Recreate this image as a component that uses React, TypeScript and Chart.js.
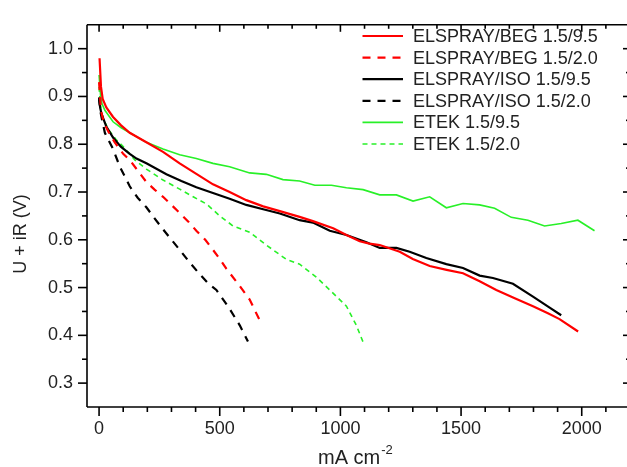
import React, { useEffect, useRef } from 'react';
import { Chart, registerables } from 'chart.js';

Chart.register(...registerables);

// ---- tick labels ----
const xTickValues = [0, 500, 1000, 1500, 2000];
const yTickValues = [0.3, 0.4, 0.5, 0.6, 0.7, 0.8, 0.9, 1.0];

// ---- series names ----
const seriesNames = [
  'ELSPRAY/BEG 1.5/9.5',
  'ELSPRAY/BEG 1.5/2.0',
  'ELSPRAY/ISO 1.5/9.5',
  'ELSPRAY/ISO 1.5/2.0',
  'ETEK 1.5/9.5',
  'ETEK 1.5/2.0',
];

// ---- ELSPRAY/BEG 1.5/9.5 ----
const begHighX = [2, 8, 15, 30, 58, 90, 127, 196, 265, 334, 403, 472, 541, 610, 680, 749, 831, 886, 970, 1025, 1080, 1120, 1163, 1246, 1300, 1370, 1440, 1508, 1577, 1646, 1720, 1798, 1860, 1908, 1985];
const begHighY = [0.98, 0.92, 0.895, 0.877, 0.857, 0.84, 0.824, 0.804, 0.784, 0.76, 0.738, 0.716, 0.7, 0.683, 0.67, 0.66, 0.648, 0.639, 0.624, 0.61, 0.597, 0.592, 0.589, 0.575, 0.56, 0.545, 0.537, 0.53, 0.513, 0.495, 0.478, 0.461, 0.446, 0.434, 0.408];

// ---- ELSPRAY/BEG 1.5/2.0 ----
const begLowX = [0, 8, 20, 40, 65, 100, 127, 160, 196, 230, 265, 300, 334, 370, 403, 440, 472, 500, 528, 576, 624, 666];
const begLowY = [0.93, 0.87, 0.845, 0.825, 0.804, 0.78, 0.767, 0.745, 0.721, 0.705, 0.69, 0.673, 0.656, 0.638, 0.619, 0.6, 0.579, 0.56, 0.539, 0.508, 0.475, 0.431];

// ---- ELSPRAY/ISO 1.5/9.5 ----
const isoHighX = [0, 5, 10, 30, 58, 90, 127, 155, 196, 279, 341, 403, 472, 541, 610, 680, 749, 831, 886, 956, 1025, 1108, 1163, 1232, 1287, 1356, 1439, 1508, 1577, 1632, 1715, 1798, 1867, 1915];
const isoHighY = [0.894, 0.875, 0.864, 0.837, 0.814, 0.795, 0.78, 0.77, 0.76, 0.737, 0.723, 0.71, 0.698, 0.686, 0.673, 0.664, 0.655, 0.641, 0.636, 0.619, 0.61, 0.595, 0.583, 0.583, 0.575, 0.562, 0.549, 0.541, 0.525, 0.52, 0.508, 0.481, 0.458, 0.442];

// ---- ELSPRAY/ISO 1.5/2.0 ----
const isoLowX = [0, 5, 10, 24, 58, 86, 127, 160, 196, 230, 265, 300, 334, 375, 417, 450, 486, 534, 583, 617];
const isoLowY = [0.898, 0.87, 0.857, 0.824, 0.79, 0.753, 0.712, 0.688, 0.668, 0.645, 0.622, 0.6, 0.579, 0.553, 0.528, 0.51, 0.495, 0.461, 0.421, 0.387];

// ---- ETEK 1.5/9.5 ----
const etekHighX = [0, 6, 12, 24, 58, 90, 127, 196, 265, 334, 403, 472, 541, 624, 693, 762, 831, 894, 963, 1025, 1094, 1163, 1232, 1301, 1370, 1439, 1508, 1577, 1639, 1708, 1777, 1846, 1915, 1984, 2053];
const etekHighY = [0.945, 0.904, 0.885, 0.871, 0.847, 0.835, 0.824, 0.804, 0.79, 0.778, 0.77, 0.76, 0.753, 0.74, 0.737, 0.726, 0.723, 0.714, 0.714, 0.709, 0.705, 0.694, 0.694, 0.681, 0.69, 0.667, 0.676, 0.673, 0.666, 0.647, 0.641, 0.629, 0.634, 0.641, 0.619];

// ---- ETEK 1.5/2.0 ----
const etekLowX = [0, 8, 20, 40, 70, 100, 148, 196, 265, 334, 390, 445, 500, 555, 624, 693, 740, 776, 831, 900, 956, 1025, 1066, 1097];
const etekLowY = [0.92, 0.87, 0.85, 0.83, 0.81, 0.795, 0.767, 0.748, 0.725, 0.706, 0.69, 0.675, 0.65, 0.629, 0.616, 0.589, 0.572, 0.559, 0.549, 0.522, 0.495, 0.461, 0.421, 0.382];

const FONT = '"Liberation Sans", Arial, Helvetica, sans-serif';
const RED = '#ff0000';
const BLACK = '#000000';
const GREEN = 'rgb(40,240,40)';

const toPoints = (xs: number[], ys: number[]) => xs.map((x, i) => ({ x, y: ys[i] }));

const framePlugin = {
  id: 'framePlugin',
  afterDraw(chart: any) {
    const { ctx, chartArea: a, scales } = chart;
    const xs = scales.x;
    const ys = scales.y;
    ctx.save();
    ctx.strokeStyle = '#000';
    ctx.lineWidth = 1.6;
    ctx.lineCap = 'butt';
    const line = (x1: number, y1: number, x2: number, y2: number) => {
      ctx.beginPath();
      ctx.moveTo(x1, y1);
      ctx.lineTo(x2, y2);
      ctx.stroke();
    };
    // frame
    line(a.left, a.top, a.right, a.top);
    line(a.left, a.bottom, a.right, a.bottom);
    line(a.left, a.top, a.left, a.bottom);
    line(a.right, a.top, a.right, a.bottom);

    // x ticks
    const xStep = xTickValues[1] - xTickValues[0];
    const xMinor = xStep / 5;
    for (let v = xTickValues[0]; v <= xs.max + 1e-6; v += xMinor) {
      const major = Math.abs(v / xStep - Math.round(v / xStep)) < 1e-6;
      const px = xs.getPixelForValue(v);
      line(px, a.bottom, px, a.bottom + (major ? 9 : 5));
      line(px, a.top, px, a.top + (major ? 7 : 4));
    }
    // y ticks
    const yStep = yTickValues[1] - yTickValues[0];
    const yMinor = yStep / 2;
    const n0 = Math.ceil((ys.min + 1e-6) / yMinor);
    const n1 = Math.floor((ys.max - 1e-6) / yMinor);
    for (let n = n0; n <= n1; n++) {
      const v = n * yMinor;
      const major = n % 2 === 0;
      const py = ys.getPixelForValue(v);
      line(a.left, py, a.left - (major ? 9 : 5), py);
      line(a.right, py, a.right - (major ? 7 : 4), py);
    }

    // axis titles
    ctx.fillStyle = '#222';
    ctx.font = `18px ${FONT}`;
    ctx.save();
    ctx.translate(21, (a.top + a.bottom) / 2 + 18);
    ctx.rotate(-Math.PI / 2);
    ctx.textAlign = 'center';
    ctx.textBaseline = 'middle';
    ctx.fillText('U + iR (V)', 0, 0);
    ctx.restore();

    ctx.font = `20px ${FONT}`;
    ctx.textAlign = 'left';
    ctx.textBaseline = 'alphabetic';
    const main = 'mA cm';
    const w = ctx.measureText(main).width;
    ctx.font = `13px ${FONT}`;
    const sw = ctx.measureText('-2').width;
    const cx = xs.getPixelForValue(1000) + 15;
    const x0 = cx - (w + sw + 1) / 2;
    ctx.font = `20px ${FONT}`;
    ctx.fillText(main, x0, 464);
    ctx.font = `13px ${FONT}`;
    ctx.fillText('-2', x0 + w + 1, 454);

    // legend
    const ds = chart.data.datasets;
    ctx.font = `18px ${FONT}`;
    ctx.textBaseline = 'middle';
    ds.forEach((d: any, i: number) => {
      const y = 36 + i * 21.6;
      ctx.save();
      ctx.strokeStyle = d.borderColor;
      ctx.lineWidth = d.borderWidth;
      ctx.setLineDash(d.borderDash || []);
      line(362.5, y, 403, y);
      ctx.restore();
      ctx.fillStyle = '#222';
      ctx.fillText(d.label, 413, y + 1);
    });
    ctx.restore();
  },
};

export default function App() {
  const ref = useRef<HTMLCanvasElement | null>(null);
  useEffect(() => {
    if (!ref.current) return;
    const datasets = [
      { label: seriesNames[0], data: toPoints(begHighX, begHighY), borderColor: RED, borderWidth: 2.2, borderDash: [] as number[] },
      { label: seriesNames[1], data: toPoints(begLowX, begLowY), borderColor: RED, borderWidth: 2.2, borderDash: [8, 7] },
      { label: seriesNames[2], data: toPoints(isoHighX, isoHighY), borderColor: BLACK, borderWidth: 2.2, borderDash: [] as number[] },
      { label: seriesNames[3], data: toPoints(isoLowX, isoLowY), borderColor: BLACK, borderWidth: 2.2, borderDash: [8, 7] },
      { label: seriesNames[4], data: toPoints(etekHighX, etekHighY), borderColor: GREEN, borderWidth: 1.6, borderDash: [] as number[] },
      { label: seriesNames[5], data: toPoints(etekLowX, etekLowY), borderColor: GREEN, borderWidth: 1.6, borderDash: [5, 4] },
    ].map((d) => ({ ...d, pointRadius: 0, tension: 0, fill: false, backgroundColor: d.borderColor }));

    const chart = new Chart(ref.current, {
      type: 'line',
      data: { datasets },
      options: {
        animation: false,
        responsive: false,
        devicePixelRatio: 1,
        layout: { padding: { left: 0, top: 11, right: 10, bottom: 0 } },
        plugins: { legend: { display: false }, tooltip: { enabled: false } },
        scales: {
          x: {
            type: 'linear',
            min: -50,
            max: 2200,
            grid: { display: false, drawTicks: false },
            border: { display: false },
            afterBuildTicks: (s: any) => {
              s.ticks = xTickValues.map((v) => ({ value: v }));
            },
            afterFit: (s: any) => {
              s.height = 60;
            },
            ticks: {
              autoSkip: false,
              maxRotation: 0,
              padding: 11,
              color: '#222',
              font: { family: FONT, size: 18 },
              callback: (v: any) => String(v),
            },
          },
          y: {
            type: 'linear',
            min: 0.25,
            max: 1.05,
            grid: { display: false, drawTicks: false },
            border: { display: false },
            afterBuildTicks: (s: any) => {
              s.ticks = yTickValues.map((v) => ({ value: v }));
            },
            afterFit: (s: any) => {
              s.width = 87;
            },
            ticks: {
              autoSkip: false,
              padding: 14,
              color: '#222',
              font: { family: FONT, size: 18 },
              callback: (v: any) => Number(v).toFixed(1),
            },
          },
        },
      },
      plugins: [framePlugin],
    });
    return () => chart.destroy();
  }, []);

  return (
    <div style={{ position: 'fixed', left: 0, top: 0, width: 627, height: 467, overflow: 'hidden', background: '#fff' }}>
      <canvas ref={ref} width={640} height={467} style={{ width: 640, height: 467, display: 'block' }} />
    </div>
  );
}
